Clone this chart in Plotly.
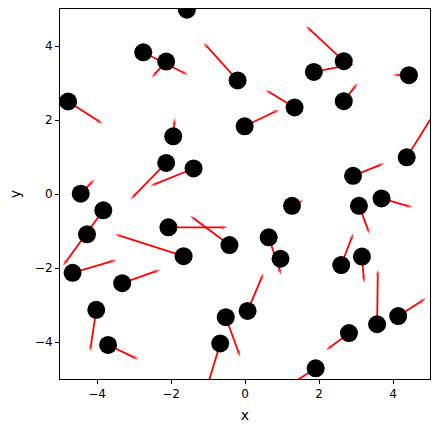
import plotly.graph_objects as go

# Point positions and arrow vectors
x_pos = [-1.57, -2.75, -2.13, -4.78, -1.94, -2.13, -1.39, -4.44, -3.83, -4.27,
         -4.66, -2.07, -1.66, -3.32, -4.02, -3.70, -0.42, -0.67, -0.52, 0.07,
         0.64, 0.96, 2.60, 3.16, 3.57, 4.14, 2.81, 1.91, 1.27, 3.08,
         3.69, -0.20, 1.86, 2.67, 4.43, 2.67, 1.34, -0.01, 4.37, 2.92]
y_pos = [4.98, 3.83, 3.58, 2.50, 1.56, 0.84, 0.69, 0.01, -0.44, -1.09,
         -2.13, -0.90, -1.68, -2.41, -3.13, -4.08, -1.38, -4.04, -3.33, -3.16,
         -1.17, -1.75, -1.92, -1.69, -3.52, -3.30, -3.76, -4.71, -0.32, -0.32,
         -0.12, 3.07, 3.30, 3.59, 3.21, 2.51, 2.34, 1.83, 0.99, 0.49]
u_vec = [0.10, 1.21, -0.39, 0.93, 0.04, -0.96, -1.16, 0.37, -1.09, -0.05,
         1.19, 1.60, -1.85, 1.02, -0.17, 0.82, -1.06, -0.38, 0.39, 0.43,
         0.34, 0.05, 0.33, 0.06, 0.02, 0.75, -0.62, -0.91, 0.31, 0.29,
         0.84, -0.92, 1.08, -1.02, -0.43, 0.37, -0.78, 0.93, 0.93, 0.84]
v_vec = [0.60, -0.61, -0.43, -0.60, 0.49, -0.98, -0.47, 0.38, -1.50, -0.08,
         0.35, 0.00, 0.59, 0.36, -1.13, -0.39, 0.79, -1.26, -1.07, 1.02,
         -1.02, -0.10, 0.86, -0.71, 1.47, 0.48, -0.46, -0.59, 0.15, -0.76,
         -0.24, 1.02, 0.21, 0.95, 0.01, 0.48, 0.47, 0.45, 1.49, 0.34]

tick_vals = [-4, -2, 0, 2, 4]
tick_text = ["\u22124", "\u22122", "0", "2", "4"]

# build segments: start -> end, separated by None
seg_x, seg_y, head_size = [], [], []
for x, y, u, v in zip(x_pos, y_pos, u_vec, v_vec):
    seg_x += [x, x + u, None]
    seg_y += [y, y + v, None]
    head_size += [0, 6, 0]

fig = go.Figure()

fig.add_trace(go.Scatter(
    x=seg_x, y=seg_y,
    mode="lines+markers",
    line=dict(color="red", width=1.8),
    marker=dict(symbol="arrow", size=head_size, color="red",
                angleref="previous", line=dict(width=0)),
    hoverinfo="skip",
    showlegend=False,
))

fig.add_trace(go.Scatter(
    x=x_pos, y=y_pos,
    mode="markers",
    marker=dict(size=18, color="black", line=dict(width=0)),
    showlegend=False,
))

axis_style = dict(
    range=[-5, 5],
    tickvals=tick_vals,
    ticktext=tick_text,
    showgrid=False,
    zeroline=False,
    showline=True,
    mirror=True,
    linecolor="black",
    linewidth=1,
    ticks="outside",
    ticklen=4,
    tickwidth=1,
    tickcolor="black",
    tickfont=dict(size=12, color="black"),
    automargin=False,
)

fig.update_layout(
    width=439, height=432,
    margin=dict(l=60, r=9, t=9, b=53),
    plot_bgcolor="white",
    paper_bgcolor="white",
    font=dict(family="DejaVu Sans", size=12, color="black"),
    xaxis=dict(axis_style, title=dict(text="x", standoff=9)),
    yaxis=dict(axis_style, title=dict(text="y", standoff=10)),
)

# drop the default page margin so the figure sits at the window corner
fig.write_html("out.html", config={"displayModeBar": False},
               post_script="document.body.style.margin='0';")
